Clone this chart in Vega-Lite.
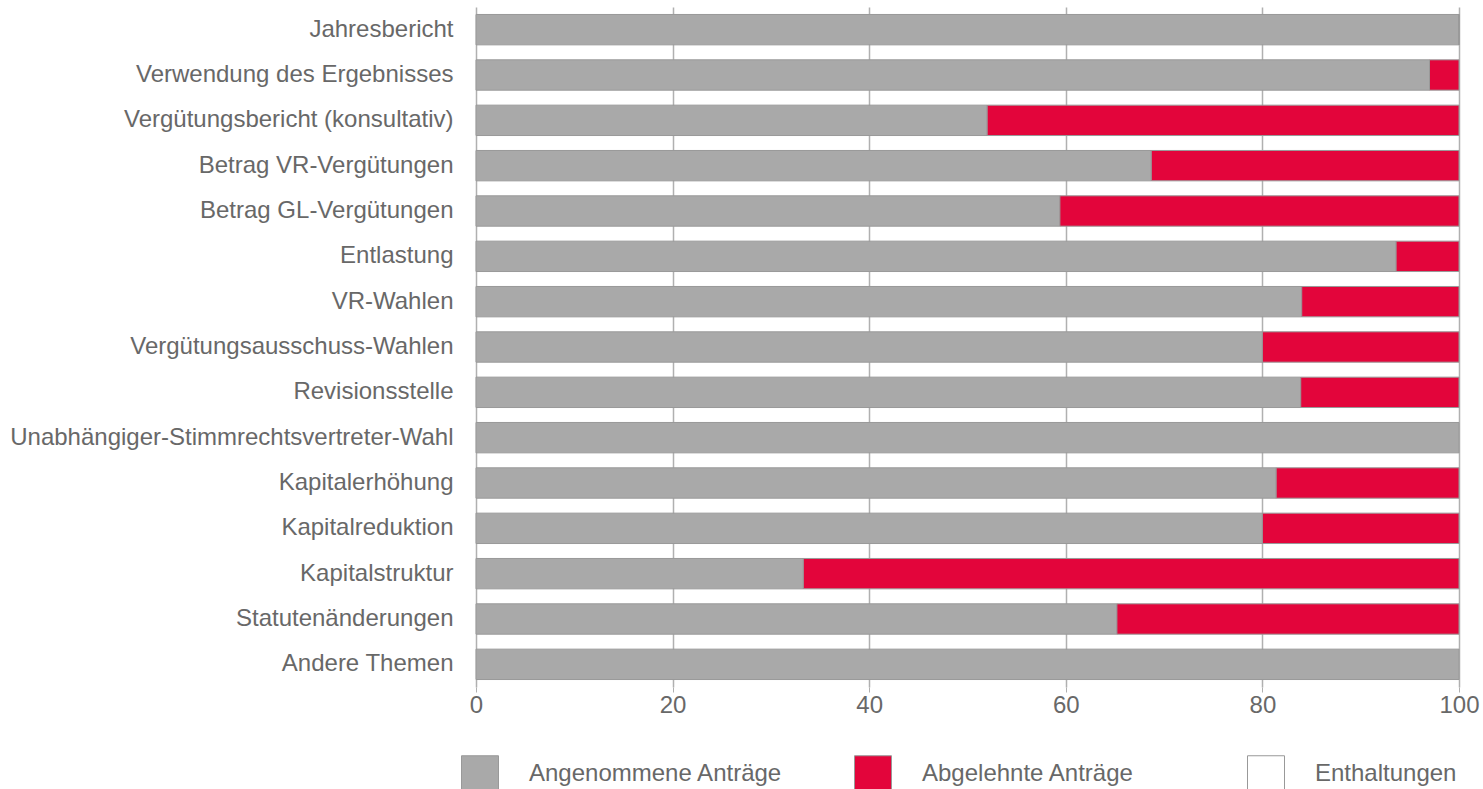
{
  "$schema": "https://vega.github.io/schema/vega-lite/v6.json",
  "width": 983,
  "height": 680,
  "autosize": "none",
  "padding": {"left": 476, "top": 7, "right": 24, "bottom": 102},
  "background": "white",
  "config": {
    "font": "Liberation Sans",
    "view": {"stroke": null}
  },
  "data": {
    "values": [
      {"thema": "Jahresbericht", "kategorie": "Angenommene Anträge", "wert": 100, "ord": 0},
      {"thema": "Jahresbericht", "kategorie": "Abgelehnte Anträge", "wert": 0, "ord": 1},
      {"thema": "Jahresbericht", "kategorie": "Enthaltungen", "wert": 0, "ord": 2},
      {"thema": "Verwendung des Ergebnisses", "kategorie": "Angenommene Anträge", "wert": 97, "ord": 0},
      {"thema": "Verwendung des Ergebnisses", "kategorie": "Abgelehnte Anträge", "wert": 3, "ord": 1},
      {"thema": "Vergütungsbericht (konsultativ)", "kategorie": "Angenommene Anträge", "wert": 52, "ord": 0},
      {"thema": "Vergütungsbericht (konsultativ)", "kategorie": "Abgelehnte Anträge", "wert": 48, "ord": 1},
      {"thema": "Betrag VR-Vergütungen", "kategorie": "Angenommene Anträge", "wert": 68.7, "ord": 0},
      {"thema": "Betrag VR-Vergütungen", "kategorie": "Abgelehnte Anträge", "wert": 31.3, "ord": 1},
      {"thema": "Betrag GL-Vergütungen", "kategorie": "Angenommene Anträge", "wert": 59.4, "ord": 0},
      {"thema": "Betrag GL-Vergütungen", "kategorie": "Abgelehnte Anträge", "wert": 40.6, "ord": 1},
      {"thema": "Entlastung", "kategorie": "Angenommene Anträge", "wert": 93.6, "ord": 0},
      {"thema": "Entlastung", "kategorie": "Abgelehnte Anträge", "wert": 6.4, "ord": 1},
      {"thema": "VR-Wahlen", "kategorie": "Angenommene Anträge", "wert": 84, "ord": 0},
      {"thema": "VR-Wahlen", "kategorie": "Abgelehnte Anträge", "wert": 16, "ord": 1},
      {"thema": "Vergütungsausschuss-Wahlen", "kategorie": "Angenommene Anträge", "wert": 80, "ord": 0},
      {"thema": "Vergütungsausschuss-Wahlen", "kategorie": "Abgelehnte Anträge", "wert": 20, "ord": 1},
      {"thema": "Revisionsstelle", "kategorie": "Angenommene Anträge", "wert": 83.9, "ord": 0},
      {"thema": "Revisionsstelle", "kategorie": "Abgelehnte Anträge", "wert": 16.1, "ord": 1},
      {"thema": "Unabhängiger-Stimmrechtsvertreter-Wahl", "kategorie": "Angenommene Anträge", "wert": 100, "ord": 0},
      {"thema": "Kapitalerhöhung", "kategorie": "Angenommene Anträge", "wert": 81.4, "ord": 0},
      {"thema": "Kapitalerhöhung", "kategorie": "Abgelehnte Anträge", "wert": 18.6, "ord": 1},
      {"thema": "Kapitalreduktion", "kategorie": "Angenommene Anträge", "wert": 80, "ord": 0},
      {"thema": "Kapitalreduktion", "kategorie": "Abgelehnte Anträge", "wert": 20, "ord": 1},
      {"thema": "Kapitalstruktur", "kategorie": "Angenommene Anträge", "wert": 33.3, "ord": 0},
      {"thema": "Kapitalstruktur", "kategorie": "Abgelehnte Anträge", "wert": 66.7, "ord": 1},
      {"thema": "Statutenänderungen", "kategorie": "Angenommene Anträge", "wert": 65.2, "ord": 0},
      {"thema": "Statutenänderungen", "kategorie": "Abgelehnte Anträge", "wert": 34.8, "ord": 1},
      {"thema": "Andere Themen", "kategorie": "Angenommene Anträge", "wert": 100, "ord": 0}
    ]
  },
  "mark": {"type": "bar", "stroke": "#999999", "strokeWidth": 1},
  "encoding": {
    "y": {
      "field": "thema",
      "type": "nominal",
      "sort": null,
      "scale": {"paddingInner": 0.33, "paddingOuter": 0.165},
      "axis": {
        "title": null,
        "ticks": false,
        "domain": false,
        "labelFontSize": 24,
        "labelColor": "#686868",
        "labelPadding": 23,
        "labelLimit": 600
      }
    },
    "x": {
      "field": "wert",
      "type": "quantitative",
      "stack": "zero",
      "scale": {"domain": [0, 100], "nice": false},
      "axis": {
        "title": null,
        "values": [0, 20, 40, 60, 80, 100],
        "grid": true,
        "gridColor": "#b0b0b0",
        "gridWidth": 1.5,
        "domain": false,
        "ticks": true,
        "tickColor": "#b0b0b0",
        "tickSize": 5,
        "labelFlush": false,
        "labelFontSize": 24,
        "labelColor": "#686868",
        "labelPadding": 1
      }
    },
    "color": {
      "field": "kategorie",
      "type": "nominal",
      "scale": {
        "domain": ["Angenommene Anträge", "Abgelehnte Anträge", "Enthaltungen"],
        "range": ["#a9a9a9", "#e3053b", "#ffffff"]
      },
      "legend": {
        "title": null,
        "orient": "none",
        "direction": "horizontal",
        "columns": 3,
        "gridAlign": "all",
        "columnPadding": 69,
        "legendX": -15,
        "legendY": 748,
        "symbolType": "square",
        "symbolSize": 1369,
        "symbolStrokeColor": "#999999",
        "symbolStrokeWidth": 1,
        "labelFontSize": 24,
        "labelLimit": 500,
        "labelColor": "#686868",
        "labelOffset": 30
      }
    },
    "order": {"field": "ord", "type": "quantitative"}
  }
}
